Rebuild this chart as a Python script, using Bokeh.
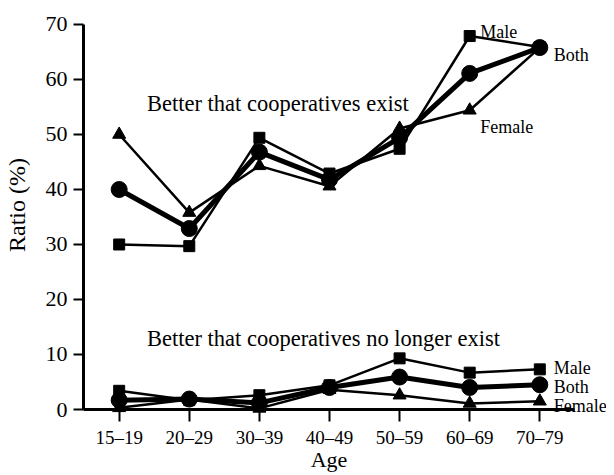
from bokeh.plotting import figure
from bokeh.models import Range1d, FixedTicker
from bokeh.core.properties import value
from bokeh.embed import file_html
from bokeh.resources import INLINE

ages = ["15–19", "20–29", "30–39", "40–49", "50–59", "60–69", "70–79"]
xs = list(range(len(ages)))

exist_both = [40.0, 32.9, 46.8, 41.8, 49.4, 61.1, 65.8]
exist_male = [30.0, 29.7, 49.4, 42.9, 47.4, 67.9, 65.9]
exist_female = [50.0, 35.8, 44.3, 40.6, 51.1, 54.4, 65.8]

gone_both = [1.7, 1.9, 1.2, 4.0, 5.9, 4.0, 4.5]
gone_male = [3.4, 1.7, 2.6, 4.4, 9.3, 6.7, 7.3]
gone_female = [0.3, 1.8, 0.2, 3.6, 2.6, 1.1, 1.5]

y_ticks = [0, 10, 20, 30, 40, 50, 60, 70]

FONT = "Liberation Serif"

p = figure(width=606, height=475,
           x_range=Range1d(-0.509, 6.495), y_range=Range1d(0, 74.36),
           output_backend="svg", toolbar_location=None,
           min_border_left=79, min_border_right=32, min_border_top=0, min_border_bottom=66)
p.outline_line_color = None
p.grid.visible = False
p.background_fill_color = "white"

p.xaxis.ticker = FixedTicker(ticks=xs)
p.xaxis.major_label_overrides = {i: a for i, a in enumerate(ages)}
p.yaxis.ticker = FixedTicker(ticks=y_ticks)
p.yaxis.bounds = (0, 70)

for ax in (p.xaxis, p.yaxis):
    ax.axis_line_width = 3
    ax.axis_line_color = "black"
    ax.major_tick_line_width = 2
    ax.major_tick_line_color = "black"
    ax.major_tick_in = 0
    ax.minor_tick_line_color = None
    ax.major_label_text_font = FONT
    ax.major_label_text_color = "black"
    ax.axis_label_text_font = FONT
    ax.axis_label_text_font_style = "normal"
    ax.axis_label_text_color = "black"

p.xaxis.major_tick_out = 12
p.xaxis.major_label_standoff = 5
p.xaxis.major_label_text_font_size = "19px"
p.xaxis.axis_label = "Age"
p.xaxis.axis_label_text_font_size = "22px"
p.xaxis.axis_label_standoff = -4

p.yaxis.major_tick_out = 10
p.yaxis.major_label_standoff = 6
p.yaxis.major_label_text_font_size = "22px"
p.yaxis.axis_label = "Ratio (%)"
p.yaxis.axis_label_text_font_size = "24px"
p.yaxis.axis_label_standoff = 13

lvl = "annotation"
for vals in (exist_male, exist_female, gone_male, gone_female):
    p.line(xs, vals, line_width=2.5, color="black", level=lvl)
for vals in (exist_both, gone_both):
    p.line(xs, vals, line_width=5, color="black", level=lvl)

for vals in (exist_male, gone_male):
    p.scatter(xs, vals, marker="square", size=11, color="black", level=lvl)
for vals in (exist_female, gone_female):
    p.scatter(xs, vals, marker="triangle", size=13, color="black", level=lvl)
for vals in (exist_both, gone_both):
    p.scatter(xs, vals, marker="circle", size=16, color="black", level=lvl)

p.text(x=[0.396, 0.396], y=[55.6, 12.9],
       text=["Better that cooperatives exist", "Better that cooperatives no longer exist"],
       text_font=value(FONT), text_font_size="22.5px", text_color="black",
       text_baseline="alphabetic", text_align="left", level=lvl)

p.text(x=[5.15, 6.2, 5.15, 6.2, 6.2, 6.2], y=[68.7, 64.5, 51.3, 7.5, 4.0, 0.7],
       text=["Male", "Both", "Female", "Male", "Both", "Female"],
       text_font=value(FONT), text_font_size="18px", text_color="black",
       text_baseline="alphabetic", text_align="left", level=lvl)

open("out.html", "w").write(file_html(p, INLINE))
